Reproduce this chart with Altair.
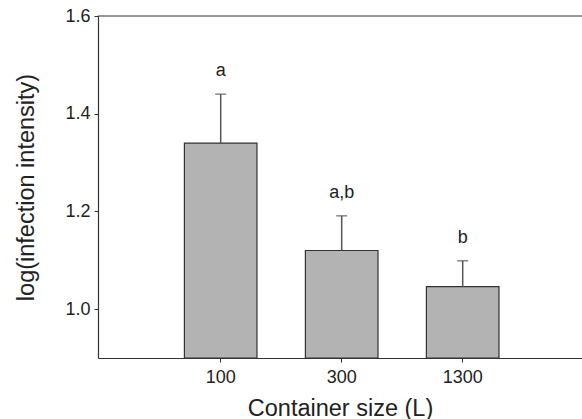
import altair as alt
import pandas as pd

categories = ["100", "300", "1300"]
means = [1.34, 1.12, 1.046]
upper = [1.44, 1.191, 1.099]
letters = ["a", "a,b", "b"]
y_min = 0.9
y_max = 1.6
y_ticks = [1.0, 1.2, 1.4, 1.6]

df = pd.DataFrame({"size": categories, "mean": means, "upper": upper, "letter": letters})

FONT = "Liberation Sans"

x_enc = alt.X(
    "size:N",
    sort=categories,
    scale=alt.Scale(paddingInner=0.4, paddingOuter=0.7, align=0.51),
    axis=alt.Axis(
        title="Container size (L)",
        labelAngle=0,
        labelFontSize=18,
        labelPadding=6,
        tickSize=4,
        titleFontSize=23.5,
        titleFontWeight="normal",
        titleY=57,
        titleBaseline="alphabetic",
    ),
)

y_scale = alt.Scale(domain=[y_min, y_max], zero=False, nice=False)
y_enc = alt.Y(
    "mean:Q",
    scale=y_scale,
    axis=alt.Axis(
        title="log(infection intensity)",
        values=y_ticks,
        format=".1f",
        labelFontSize=18,
        labelPadding=4,
        tickSize=4,
        grid=False,
        titleFontSize=23.5,
        titleFontWeight="normal",
        titleX=-65,
        titleY=171,
        titleBaseline="alphabetic",
        titleAlign="center",
    ),
)

base = alt.Chart(df)

bars = base.mark_bar(color="#b3b3b3", stroke="#333333", strokeWidth=1.2).encode(
    x=x_enc,
    y=y_enc,
    y2=alt.datum(y_min),
)

err = base.mark_rule(color="#555555", strokeWidth=1.5).encode(
    x=alt.X("size:N", sort=categories),
    y=alt.Y("mean:Q", scale=y_scale),
    y2="upper:Q",
)

caps = base.mark_tick(color="#555555", size=11, thickness=1.5, orient="horizontal").encode(
    x=alt.X("size:N", sort=categories),
    y=alt.Y("upper:Q", scale=y_scale),
)

text = base.mark_text(fontSize=18, font=FONT, color="#222222", baseline="alphabetic", dy=-18).encode(
    x=alt.X("size:N", sort=categories),
    y=alt.Y("upper:Q", scale=y_scale),
    text="letter:N",
)

topline = alt.Chart(pd.DataFrame({"v": [y_max]})).mark_rule(color="#333333", strokeWidth=1).encode(
    y=alt.Y("v:Q", scale=y_scale)
)

chart = (
    alt.layer(bars, err, caps, text, topline)
    .properties(
        width=484,
        height=342,
        padding={"left": 98, "top": 16, "right": 0, "bottom": 61},
        autosize=alt.AutoSizeParams(type="none"),
        background="white",
    )
    .configure_view(stroke=None)
    .configure_axis(
        labelFont=FONT,
        titleFont=FONT,
        labelColor="#222222",
        titleColor="#222222",
        domainColor="#333333",
        tickColor="#333333",
        domainWidth=1.2,
    )
)

chart.save("out.html", embed_options={"renderer": "svg", "actions": False})
